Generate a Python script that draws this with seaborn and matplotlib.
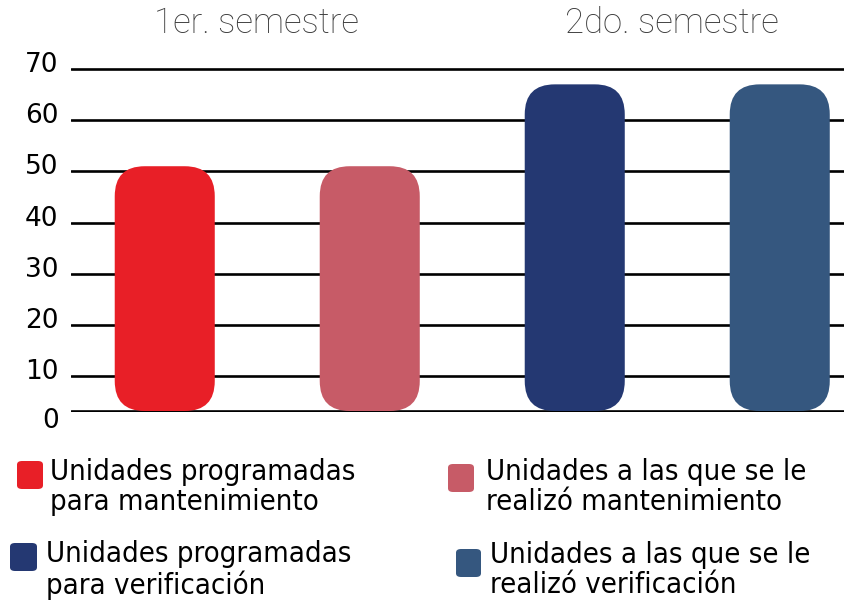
import matplotlib
matplotlib.use("Agg")
import matplotlib.pyplot as plt
from matplotlib.patches import FancyBboxPatch
from matplotlib.transforms import ScaledTranslation, IdentityTransform
import matplotlib.font_manager as fm
import seaborn as sns
import pandas as pd
import numpy as np

# ---- data ----
categories = ["prog_mant", "real_mant", "prog_verif", "real_verif"]
values = [51, 51, 67, 67]
colors = ["#E81F27", "#C75B67", "#243872", "#35577F"]
legend_labels = [
    "Unidades programadas\npara mantenimiento",
    "Unidades a las que se le\nrealizó mantenimiento",
    "Unidades programadas\npara verificación",
    "Unidades a las que se le\nrealizó verificación",
]
group_titles = ["1er. semestre", "2do. semestre"]
yticks = [0, 10, 20, 30, 40, 50, 60, 70]

df = pd.DataFrame({"cat": categories, "val": values})

sns.set_theme(style="white")
plt.rcParams["font.family"] = ["DejaVu Sans"]

W, H = 844, 607
fig = plt.figure(figsize=(W / 100, H / 100), dpi=100)

# piecewise axis scale (first decade compressed, as in the reference)
K = 3.5 / 5.117
def fwd(y):
    y = np.asarray(y, dtype=float)
    return np.where(y < 10, y * K, 10 * K + (y - 10))
def inv(v):
    v = np.asarray(v, dtype=float)
    return np.where(v < 10 * K, v / K, v - 10 * K + 10)

ppu = 5.117
ypad = 0.4
y0_px = 411 + ypad * K * ppu
y1_px = 69 - ypad * ppu
ax = fig.add_axes([71 / W, 1 - y0_px / H, 1 - 71 / W, (y0_px - y1_px) / H])
ax.set_yscale("function", functions=(fwd, inv))

sns.barplot(data=df, x="cat", y="val", hue="cat", palette=colors,
            width=0.488, legend=False, ax=ax, saturation=1)

xpx_per_unit = 205.0
c0 = 164.75
ax.set_xlim(-(c0 - 71) / xpx_per_unit, (844 - c0) / xpx_per_unit)
ax.set_ylim(-ypad, 70 + ypad)
ax.set_yticks(yticks)
ax.set_yticklabels([str(t) for t in yticks])
ax.set_xticks([])
ax.set_xlabel("")
ax.set_ylabel("")
ax.yaxis.grid(True, color="black", linewidth=1.9)
ax.set_axisbelow(True)
for s in ax.spines.values():
    s.set_visible(False)
ax.tick_params(axis="y", length=0, pad=9, labelsize=19, labelcolor="black")
ax.yaxis.set_minor_locator(matplotlib.ticker.NullLocator())

# label offsets: labels sit slightly above their lines, "0" below
for t, lab in zip(yticks, ax.get_yticklabels()):
    dy = -7 if t == 0 else 7
    lab.set_transform(lab.get_transform() + ScaledTranslation(0, dy / 100, fig.dpi_scale_trans))

# rounded bars, built in display space from the data positions
radius_px = 30
for p in list(ax.patches):
    x, w, h, c = p.get_x(), p.get_width(), p.get_height(), p.get_facecolor()
    p.set_visible(False)
    (dx0, dy0) = ax.transData.transform((x, 0))
    (dx1, dy1) = ax.transData.transform((x + w, h))
    fb = FancyBboxPatch((dx0, dy0), dx1 - dx0, dy1 - dy0,
                        boxstyle=f"round,pad=0,rounding_size={radius_px}",
                        transform=IdentityTransform(), facecolor=c,
                        edgecolor="none", zorder=3)
    fig.patches.append(fb)
    fb.set_figure(fig)

# group titles
title_pos = [(256, 23), (672, 23)]
for t, (x, y) in zip(group_titles, title_pos):
    fig.text(x / W, 1 - y / H, t, ha="center", va="center", fontsize=25,
             color="#3c3c3c", family=["Roboto", "DejaVu Sans"], fontweight="light")

# legend (manual)
marker_boxes = [(17, 461, 26, 28), (448, 464, 26, 28), (10, 543, 27, 28), (456, 549, 25, 28)]
text_pos = [(50, 487), (486, 487), (46, 570), (490, 570)]
for (mx, my, mw, mh), (tx, ty), lab, col in zip(marker_boxes, text_pos, legend_labels, colors):
    fb = FancyBboxPatch((mx / W, 1 - (my + mh) / H), mw / W, mh / H,
                        boxstyle="round,pad=0,rounding_size=0.006",
                        transform=fig.transFigure, facecolor=col, edgecolor="none")
    fb.set_figure(fig)
    fig.patches.append(fb)
    fig.text(tx / W, 1 - ty / H, lab, ha="left", va="center", fontsize=21,
             color="black", linespacing=1.1, fontstretch="condensed",
             family=["DejaVu Sans"])

fig.savefig("out.png", dpi=100)
